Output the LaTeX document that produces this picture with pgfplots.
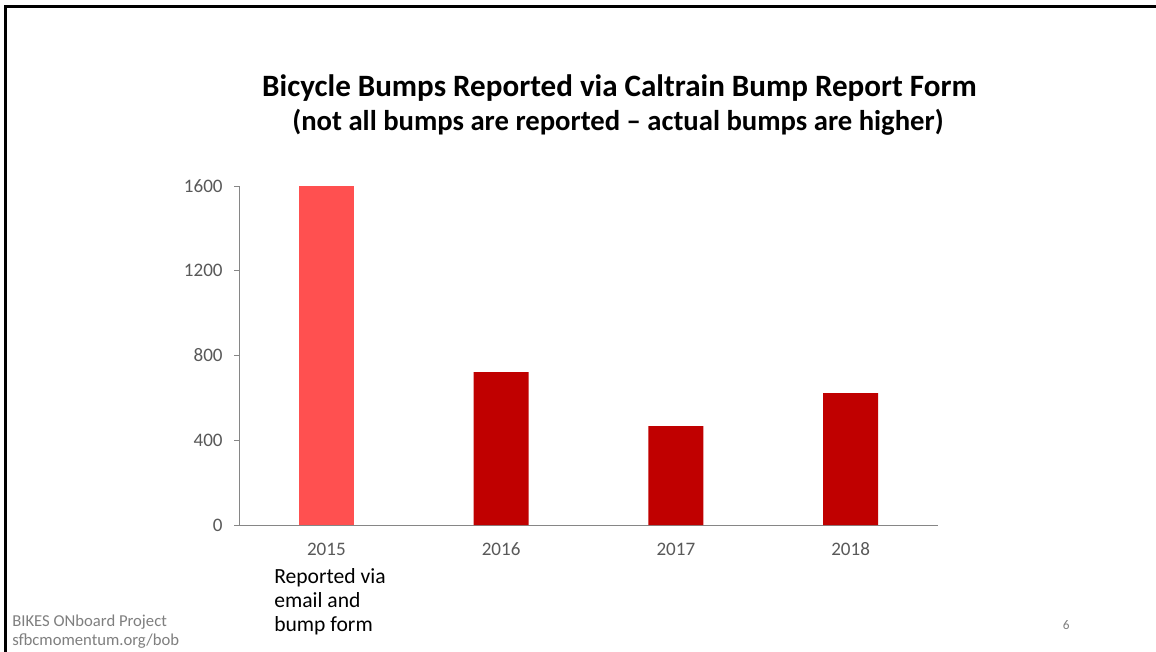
\documentclass[border=0pt]{standalone}
\usepackage{fontspec}
\setmainfont{Carlito}
\usepackage{pgfplots}
\pgfplotsset{compat=1.18}
\definecolor{axisgray}{RGB}{134,134,134}
\definecolor{labelgray}{RGB}{89,89,89}
\definecolor{footgray}{RGB}{127,127,127}
\definecolor{lightred}{RGB}{255,80,80}
\definecolor{darkred}{RGB}{192,0,0}

\begin{document}
\begin{tikzpicture}
% slide frame: 1 px = 0.75pt, origin at top left
\useasboundingbox (0,0) rectangle (867pt,-489pt);
\fill[white] (0,0) rectangle (867pt,-489pt);
\draw[black, line width=1.8pt] (4.1pt,-489pt) -- (4.1pt,-4.9pt) -- (867pt,-4.9pt);

% title
\node[anchor=base, font=\bfseries\fontsize{23.3}{26}\selectfont] at (464.6pt,-72.75pt)
  {Bicycle Bumps Reported via Caltrain Bump Report Form};
\node[anchor=base, font=\bfseries\fontsize{21.5}{24}\selectfont] at (463.5pt,-98.25pt)
  {(not all bumps are reported -- actual bumps are higher)};

\begin{axis}[
    at={(179.25pt,-393.75pt)}, anchor=south west,
    scale only axis,
    width=524.25pt, height=254.25pt,
    ybar, bar width=41.25pt, bar shift=0pt,
    xmin=-0.5, xmax=3.5,
    ymin=0, ymax=1600,
    xtick={0,1,2,3},
    xticklabels={2015,2016,2017,2018},
    ytick={0,400,800,1200,1600},
    axis lines*=left,
    axis line style={axisgray, line width=0.75pt},
    tick align=outside,
    major tick length=3.75pt,
    ytick style={axisgray, line width=0.75pt},
    xtick style={draw=none},
    tick label style={font=\fontsize{14.3}{16}\selectfont, text=labelgray},
    xticklabel style={yshift=-6pt},
    yticklabel style={xshift=-5pt},
    /pgf/number format/assume math mode=true,
    /pgf/number format/1000 sep={},
]
\addplot[fill=lightred, draw=none] coordinates {(0,1600)};
\addplot[fill=darkred, draw=none] coordinates {(1,722) (2,467) (3,622)};
\end{axis}

% note under the first bar
\node[anchor=north west, align=left, inner sep=0pt,
      font=\fontsize{16.2}{17.8}\selectfont] at (205.5pt,-426.2pt)
  {Reported via\\email and\\bump form};

% footer
\node[anchor=base west, align=left, inner sep=0pt, text=footgray,
      font=\fontsize{12.5}{14.25}\selectfont] at (9pt,-469.5pt)
  {BIKES ONboard Project};
\node[anchor=base west, align=left, inner sep=0pt, text=footgray,
      font=\fontsize{12.5}{14.25}\selectfont] at (9pt,-483.75pt)
  {sfbcmomentum.org/bob};
\node[anchor=base west, inner sep=0pt, text=footgray,
      font=\fontsize{10}{12}\selectfont] at (797pt,-472pt) {6};
\end{tikzpicture}
\end{document}
